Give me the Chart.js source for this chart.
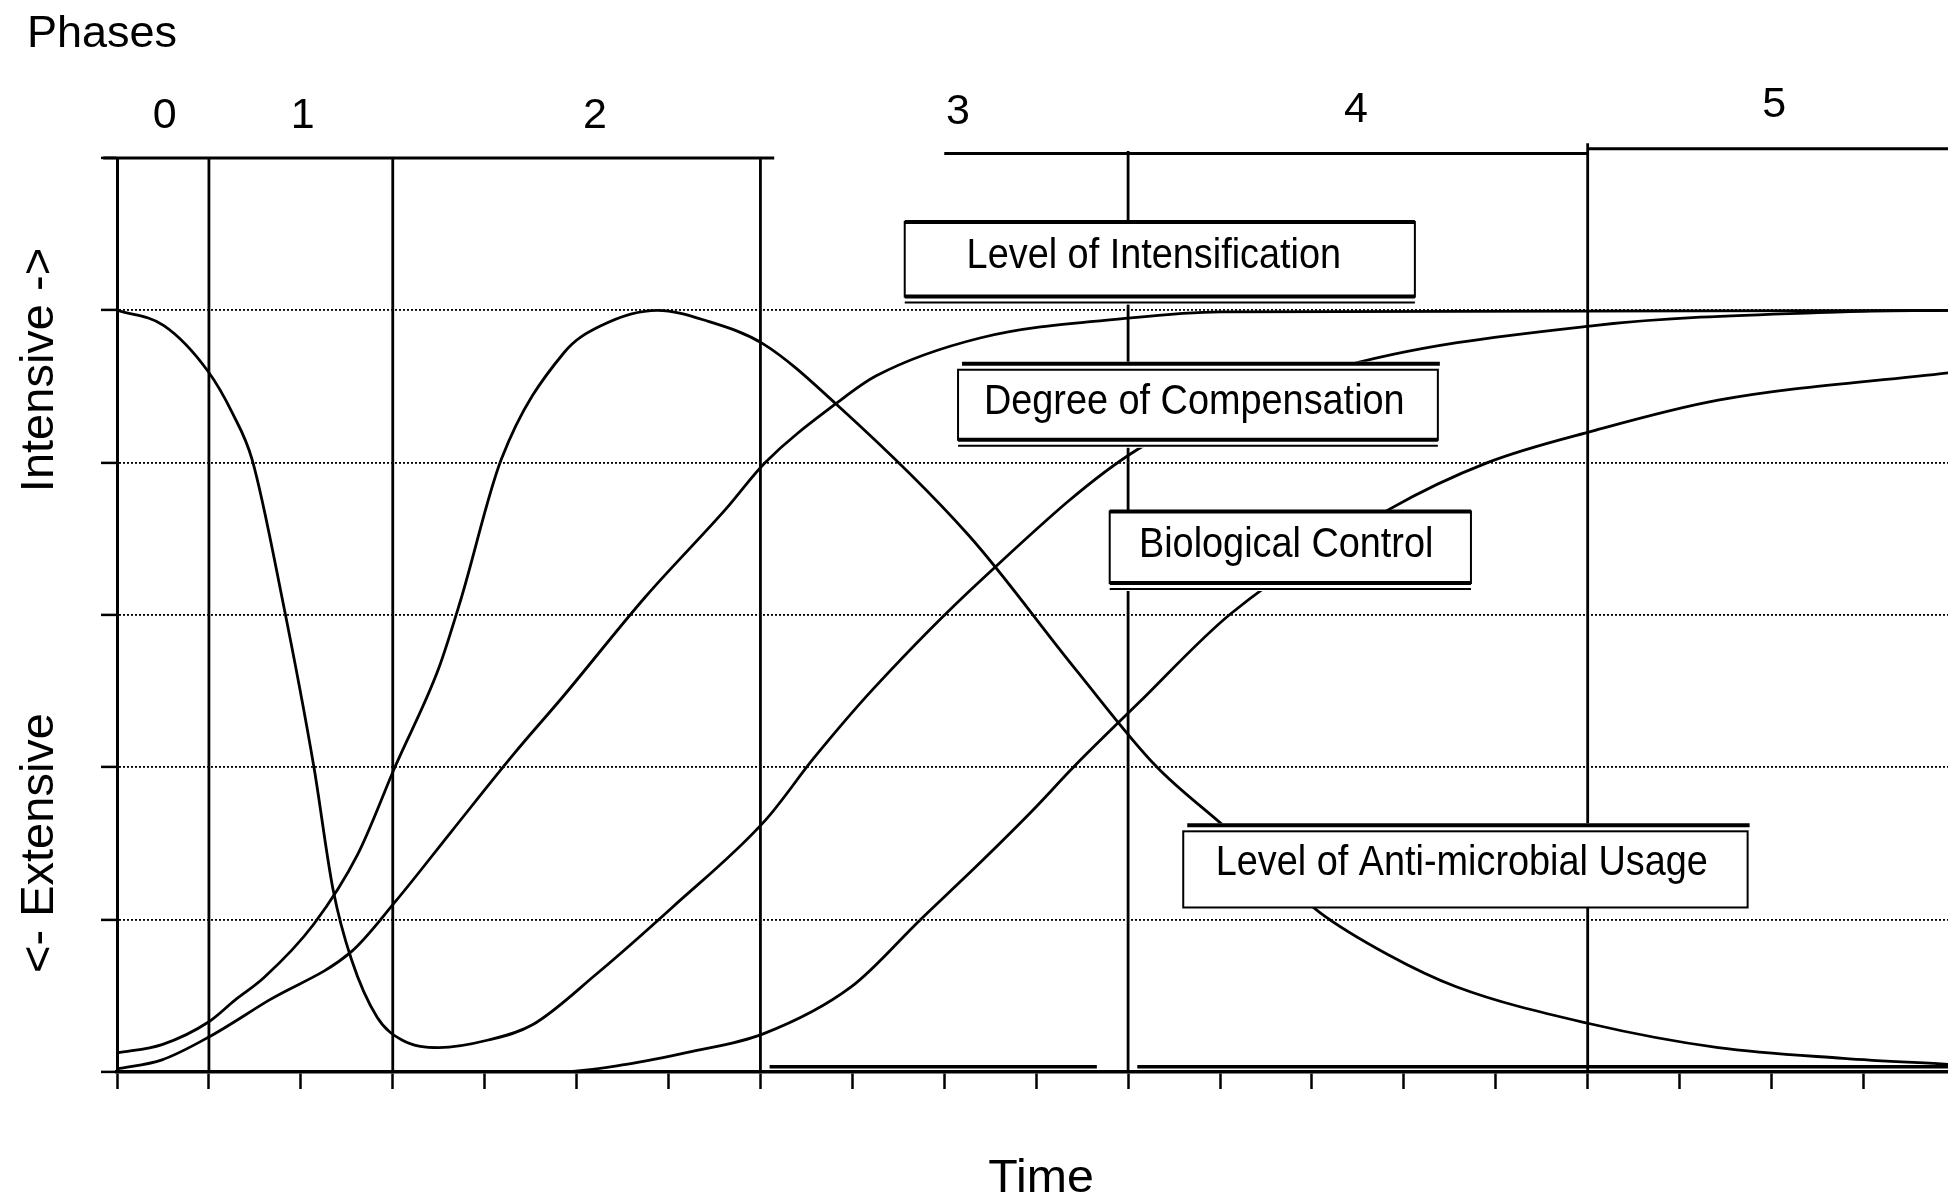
<!DOCTYPE html>
<html>
<head>
<meta charset="utf-8">
<script src="https://cdn.jsdelivr.net/npm/chart.js@4.4.1/dist/chart.umd.min.js"></script>
<style>
  html, body { margin: 0; padding: 0; background: #fff; overflow: hidden; }
</style>
</head>
<body>
<canvas id="phaseChart" width="1948" height="1199"></canvas>
<script>
// ---------------- Daten ----------------
const phaseNames = ['0', '1', '2', '3', '4', '5'];
const phaseBounds = [1, 3, 7, 11, 16];

// Degree of Compensation
const compensationT = [0, 0.51, 0.99, 1.26, 1.47, 1.80, 2.14, 2.35, 2.55, 2.83, 3.10, 3.50, 4.04, 4.52, 5.21, 6.04, 7.05, 7.58, 8.22, 9.42, 11.11, 13.21, 16.07, 18.78, 19.92];
const compensationY = [5.0, 4.90, 4.60, 4.32, 4.02, 3.10, 2.01, 1.20, 0.74, 0.36, 0.21, 0.16, 0.21, 0.31, 0.64, 1.08, 1.65, 2.06, 2.51, 3.24, 4.09, 4.61, 4.90, 4.99, 5.0];

// Level of Intensification
const intensificationT = [0, 0.49, 1.0, 1.65, 2.55, 3.03, 3.64, 4.32, 4.86, 5.75, 6.63, 7.05, 7.85, 8.26, 9.40, 11.03, 12.0, 19.92];
const intensificationY = [0.02, 0.08, 0.23, 0.47, 0.79, 1.12, 1.58, 2.09, 2.47, 3.12, 3.70, 4.0, 4.40, 4.57, 4.82, 4.95, 4.99, 5.0];

// Level of Anti-microbial Usage
const antimicrobialT = [0, 0.49, 1.0, 1.28, 1.60, 2.14, 2.62, 3.03, 3.50, 3.74, 4.18, 4.86, 5.27, 5.88, 6.42, 7.03, 7.85, 9.27, 10.42, 11.30, 12.05, 13.08, 13.83, 14.57, 16.0, 17.42, 18.78, 19.92];
const antimicrobialY = [0.125, 0.18, 0.33, 0.47, 0.62, 0.97, 1.43, 2.01, 2.65, 3.10, 4.02, 4.72, 4.90, 5.0, 4.93, 4.78, 4.37, 3.52, 2.65, 2.01, 1.61, 1.05, 0.77, 0.56, 0.32, 0.16, 0.09, 0.05];

// Biological Control
const bioControlT = [0, 4.8, 5.54, 6.22, 7.03, 7.99, 8.74, 9.40, 9.95, 10.42, 11.11, 12.12, 13.83, 14.91, 16.07, 17.42, 19.92];
const bioControlY = [0, 0, 0.05, 0.13, 0.25, 0.56, 1.0, 1.38, 1.71, 2.01, 2.42, 3.01, 3.69, 4.0, 4.21, 4.41, 4.59];

// ---------------- Layout / Beschriftung ----------------
const FONT = '"Liberation Sans", Arial, Helvetica, sans-serif';

// Phasen-Ziffern: Position (Zeit) und Grundlinie (px)
const phaseLabelX = [0.52, 2.02, 5.2, 9.15, 13.48, 18.03];
const phaseLabelBase = [128, 128, 128, 124, 122, 117];

// obere Rahmenlinien der Phasen
const topSegments = [
  { from: -0.15, to: 7.15, y: 6.0 },
  { from: 9.0, to: 16.0, y: 6.03 },
  { from: 16.0, to: 19.95, y: 6.06 }
];
const boundTops = [6.0, 6.0, 6.0, 6.04, 6.09];
const bottomSegments = [
  { from: 7.1, to: 10.66, y: 0.035 },
  { from: 11.1, to: 19.95, y: 0.035 }
];

// Beschriftungskästen
const boxes = [
  { text: 'Level of Intensification', x0: 8.57, x1: 14.12, top: 5.58, bottom: 5.09, tx: 11.28, ty: 5.28, thickTop: true, topBar: false, double: true },
  { text: 'Degree of Compensation', x0: 9.15, x1: 14.37, top: 4.61, bottom: 4.15, tx: 11.72, ty: 4.32, thickTop: false, topBar: true, double: true },
  { text: 'Biological Control', x0: 10.8, x1: 14.73, top: 3.68, bottom: 3.21, tx: 12.72, ty: 3.38, thickTop: true, topBar: false, double: true },
  { text: 'Level of Anti-microbial Usage', x0: 11.6, x1: 17.74, top: 1.58, bottom: 1.08, tx: 14.63, ty: 1.29, thickTop: false, topBar: true, double: false }
];

function toPoints(ts, ys) {
  return ts.map((t, i) => ({ x: t, y: ys[i] }));
}

function line(ctx, x1, y1, x2, y2, w) {
  ctx.lineWidth = w;
  ctx.beginPath();
  ctx.moveTo(x1, y1);
  ctx.lineTo(x2, y2);
  ctx.stroke();
}

function squeezeText(ctx, text, x, y, size, k) {
  ctx.save();
  ctx.font = size + 'px ' + FONT;
  ctx.textAlign = 'center';
  ctx.textBaseline = 'alphabetic';
  ctx.translate(x, y);
  ctx.scale(k, 1);
  ctx.fillText(text, 0, 0);
  ctx.restore();
}

// ---------------- Plugin: Phasenrahmen, Kästen, Texte ----------------
const phasePlugin = {
  id: 'phaseFrame',
  beforeDatasetsDraw(chart) {
    const ctx = chart.ctx;
    const xs = chart.scales.x, ys = chart.scales.y;
    ctx.save();
    ctx.strokeStyle = '#000';
    ctx.lineCap = 'butt';
    phaseBounds.forEach((b, i) => {
      const px = xs.getPixelForValue(b);
      line(ctx, px, ys.getPixelForValue(0), px, ys.getPixelForValue(boundTops[i]) - 1, 2.8);
    });
    topSegments.forEach(s => {
      const py = ys.getPixelForValue(s.y);
      line(ctx, xs.getPixelForValue(s.from), py, xs.getPixelForValue(s.to), py, 3);
    });
    bottomSegments.forEach(s => {
      const py = ys.getPixelForValue(s.y);
      line(ctx, xs.getPixelForValue(s.from), py, xs.getPixelForValue(s.to), py, 3.5);
    });
    ctx.restore();
  },
  afterDatasetsDraw(chart) {
    const ctx = chart.ctx;
    const xs = chart.scales.x, ys = chart.scales.y;
    ctx.save();
    ctx.strokeStyle = '#000';
    boxes.forEach(b => {
      const L = xs.getPixelForValue(b.x0), R = xs.getPixelForValue(b.x1);
      const T = ys.getPixelForValue(b.top), B = ys.getPixelForValue(b.bottom);
      ctx.fillStyle = '#fff';
      ctx.fillRect(L, T - (b.topBar ? 8 : 0), R - L, B - T + (b.double ? 8 : 0) + (b.topBar ? 8 : 0));
      ctx.lineWidth = 2;
      ctx.strokeRect(L, T, R - L, B - T);
      if (b.thickTop) line(ctx, L, T, R, T, 4);
      if (b.topBar) line(ctx, L + 4, T - 6, R + 2, T - 6, 4);
      if (b.double) {
        line(ctx, L, B, R, B, 4);
        line(ctx, L, B + 6, R, B + 6, 2);
      }
      ctx.fillStyle = '#000';
      squeezeText(ctx, b.text, xs.getPixelForValue(b.tx), ys.getPixelForValue(b.ty), 43, 0.88);
    });
    ctx.restore();
  },
  afterDraw(chart) {
    const ctx = chart.ctx;
    const xs = chart.scales.x;
    ctx.save();
    ctx.fillStyle = '#000';
    ctx.font = '45px ' + FONT;
    ctx.textAlign = 'left';
    ctx.textBaseline = 'alphabetic';
    ctx.fillText('Phases', 27, 47);

    phaseNames.forEach((n, i) => {
      squeezeText(ctx, n, xs.getPixelForValue(phaseLabelX[i]), phaseLabelBase[i], 43, 1);
    });

    // Achsentitel links (gedreht)
    [['Intensive ->', 370], ['<- Extensive', 843]].forEach(([t, cy]) => {
      ctx.save();
      ctx.translate(53, cy);
      ctx.rotate(-Math.PI / 2);
      ctx.font = '47px ' + FONT;
      ctx.textAlign = 'center';
      ctx.fillText(t, 0, 0);
      ctx.restore();
    });

    squeezeText(ctx, 'Time', 1041, 1192, 46, 1.05);
    ctx.restore();
  }
};

// ---------------- Liniendiagramm ----------------
const lineStyle = {
  borderColor: '#000',
  borderWidth: 2.8,
  pointRadius: 0,
  fill: false,
  cubicInterpolationMode: 'monotone'
};

const phaseChart = new Chart(document.getElementById('phaseChart'), {
  type: 'line',
  data: {
    datasets: [
      { label: 'Degree of Compensation', data: toPoints(compensationT, compensationY), ...lineStyle },
      { label: 'Level of Intensification', data: toPoints(intensificationT, intensificationY), ...lineStyle },
      { label: 'Level of Anti-microbial Usage', data: toPoints(antimicrobialT, antimicrobialY), ...lineStyle },
      { label: 'Biological Control', data: toPoints(bioControlT, bioControlY), ...lineStyle }
    ]
  },
  options: {
    responsive: false,
    devicePixelRatio: 1,
    animation: false,
    layout: { padding: { top: 158, right: 0, left: 0, bottom: 0 } },
    plugins: {
      legend: { display: false },
      tooltip: { enabled: false },
      title: { display: false }
    },
    scales: {
      x: {
        type: 'linear',
        min: 0,
        max: 19.92,
        ticks: { display: false, stepSize: 1, includeBounds: false },
        grid: { drawOnChartArea: false, drawTicks: true, tickLength: 17, tickColor: '#000', tickWidth: 2.5 },
        border: { display: true, color: '#000', width: 3.5 },
        afterFit: s => { s.height = 127; }
      },
      y: {
        type: 'linear',
        min: 0,
        max: 6,
        ticks: { display: false, stepSize: 1 },
        grid: {
          color: c => (c.tick && (c.tick.value === 0 || c.tick.value === 6)) ? 'rgba(0,0,0,0)' : '#000',
          lineWidth: 1.8,
          drawTicks: true,
          tickLength: 16,
          tickColor: '#000',
          tickWidth: 2.5
        },
        border: { display: true, color: '#000', width: 3, dash: [2, 2] },
        afterFit: s => { s.width = 117; }
      }
    }
  },
  plugins: [phasePlugin]
});
</script>
</body>
</html>
